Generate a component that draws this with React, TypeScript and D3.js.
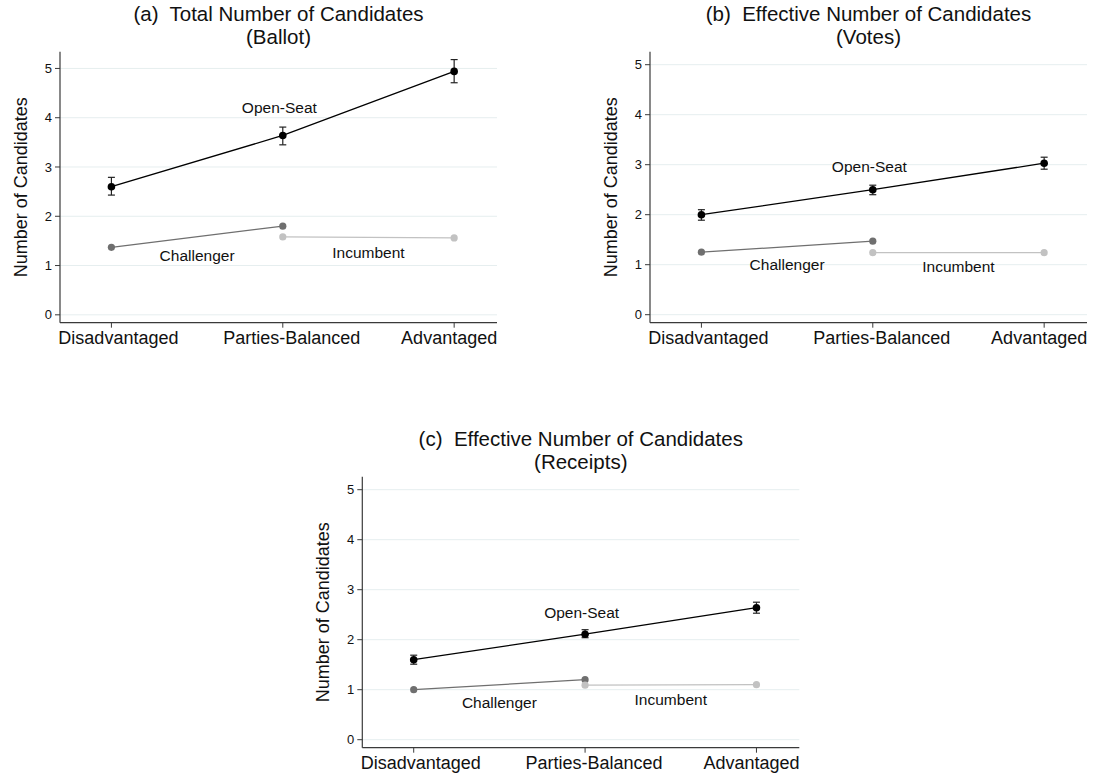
import React from "react";
import * as d3 from "d3";

const categories = ["Disadvantaged", "Parties-Balanced", "Advantaged"];
const yTicks = [0, 1, 2, 3, 4, 5];

const titlesPrefix = ["(a)", "(b)", "(c)"];
const titlesLine1 = [
  "Total Number of Candidates",
  "Effective Number of Candidates",
  "Effective Number of Candidates",
];
const titlesLine2 = ["(Ballot)", "(Votes)", "(Receipts)"];

// Open-seat means and 95% CI
const openSeatA = [2.6, 3.64, 4.94];
const openSeatALo = [2.43, 3.45, 4.71];
const openSeatAHi = [2.79, 3.81, 5.18];
const openSeatB = [2.0, 2.5, 3.03];
const openSeatBLo = [1.89, 2.4, 2.91];
const openSeatBHi = [2.1, 2.59, 3.15];
const openSeatC = [1.6, 2.11, 2.64];
const openSeatCLo = [1.51, 2.04, 2.53];
const openSeatCHi = [1.69, 2.2, 2.75];

// Challenger: Disadvantaged, Parties-Balanced
const challengerA = [1.37, 1.8];
const challengerB = [1.25, 1.47];
const challengerC = [1.0, 1.2];
// Incumbent: Parties-Balanced, Advantaged
const incumbentA = [1.58, 1.56];
const incumbentB = [1.24, 1.24];
const incumbentC = [1.09, 1.1];

// Label anchor values (data coordinates)
const openSeatLabelY = [4.09, 2.85, 2.44];
const challengerLabelY = [1.1, 0.9, 0.64];
const incumbentLabelY = [1.15, 0.85, 0.7];
const yDomains: [number, number][] = [
  [-0.16, 5.34],
  [-0.16, 5.26],
  [-0.16, 5.26],
];

const panels = [
  { left: 60, top: 51.7, open: openSeatA, lo: openSeatALo, hi: openSeatAHi, ch: challengerA, inc: incumbentA },
  { left: 650, top: 51.7, open: openSeatB, lo: openSeatBLo, hi: openSeatBHi, ch: challengerB, inc: incumbentB },
  { left: 362.3, top: 476.7, open: openSeatC, lo: openSeatCLo, hi: openSeatCHi, ch: challengerC, inc: incumbentC },
];

const W = 437;
const H = 271;
const FONT = "'Liberation Sans', Arial, Helvetica, sans-serif";
const GRID = "#e6eeef";
const AXIS = "#3a3a3a";
const CH_COLOR = "#6f6f6f";
const INC_COLOR = "#c2c2c2";
const X_LABEL_SHIFT = [7, 9, -5];

function Panel({ idx }: { idx: number }) {
  const p = panels[idx];
  const x = d3.scaleLinear().domain([-0.3, 2.25]).range([p.left, p.left + W]);
  const y = d3.scaleLinear().domain(yDomains[idx]).range([p.top + H, p.top]);
  const line = d3
    .line<[number, number]>()
    .x((d) => x(d[0]))
    .y((d) => y(d[1]));
  const openPts: [number, number][] = p.open.map((v, i) => [i, v]);
  const chPts: [number, number][] = p.ch.map((v, i) => [i, v]);
  const incPts: [number, number][] = p.inc.map((v, i) => [i + 1, v]);
  const bottom = p.top + H;
  const cx = p.left + W / 2;
  return (
    <g fontFamily={FONT}>
      {/* titles */}
      <text x={cx} y={p.top - 31} textAnchor="middle" fontSize={20.5} fill="#111">
        {titlesPrefix[idx] + "\u00A0 " + titlesLine1[idx]}
      </text>
      <text x={cx} y={p.top - 7.5} textAnchor="middle" fontSize={20.5} fill="#111">
        {titlesLine2[idx]}
      </text>
      {/* grid */}
      {yTicks.map((t) => (
        <line key={"g" + t} x1={p.left} x2={p.left + W} y1={y(t)} y2={y(t)} stroke={GRID} strokeWidth={1} />
      ))}
      {/* y axis */}
      <line x1={p.left} x2={p.left} y1={p.top} y2={bottom} stroke={AXIS} strokeWidth={1.2} />
      {yTicks.map((t) => (
        <g key={"yt" + t}>
          <line x1={p.left - 5} x2={p.left} y1={y(t)} y2={y(t)} stroke={AXIS} strokeWidth={1} />
          <text x={p.left - 8} y={y(t) + 4.6} textAnchor="end" fontSize={13} fill="#111">
            {t}
          </text>
        </g>
      ))}
      <text
        transform={`translate(${p.left - 33.5},${p.top + H / 2}) rotate(-90)`}
        textAnchor="middle"
        fontSize={18}
        fill="#111"
      >
        Number of Candidates
      </text>
      {/* x axis */}
      <line x1={p.left} x2={p.left + W} y1={bottom} y2={bottom} stroke={AXIS} strokeWidth={1.2} />
      {categories.map((c, i) => (
        <g key={"xt" + i}>
          <line x1={x(i)} x2={x(i)} y1={bottom} y2={bottom + 5} stroke={AXIS} strokeWidth={1} />
          <text x={x(i) + X_LABEL_SHIFT[i]} y={bottom + 21} textAnchor="middle" fontSize={18} fill="#111">
            {c}
          </text>
        </g>
      ))}
      {/* lines */}
      <path d={line(chPts) || ""} fill="none" stroke={CH_COLOR} strokeWidth={1.3} />
      <path d={line(incPts) || ""} fill="none" stroke={INC_COLOR} strokeWidth={1.3} />
      <path d={line(openPts) || ""} fill="none" stroke="#000" strokeWidth={1.3} />
      {/* error bars */}
      {p.open.map((_, i) => (
        <g key={"eb" + i} stroke="#222" strokeWidth={1.2}>
          <line x1={x(i)} x2={x(i)} y1={y(p.lo[i])} y2={y(p.hi[i])} />
          <line x1={x(i) - 3.5} x2={x(i) + 3.5} y1={y(p.lo[i])} y2={y(p.lo[i])} />
          <line x1={x(i) - 3.5} x2={x(i) + 3.5} y1={y(p.hi[i])} y2={y(p.hi[i])} />
        </g>
      ))}
      {/* markers */}
      {chPts.map((d, i) => (
        <circle key={"cm" + i} cx={x(d[0])} cy={y(d[1])} r={3.6} fill={CH_COLOR} />
      ))}
      {incPts.map((d, i) => (
        <circle key={"im" + i} cx={x(d[0])} cy={y(d[1])} r={3.6} fill={INC_COLOR} />
      ))}
      {openPts.map((d, i) => (
        <circle key={"om" + i} cx={x(d[0])} cy={y(d[1])} r={3.8} fill="#000" />
      ))}
      {/* series labels */}
      <text x={x(0.98)} y={y(openSeatLabelY[idx])} textAnchor="middle" fontSize={15.5} fill="#111">
        Open-Seat
      </text>
      <text x={x(0.5)} y={y(challengerLabelY[idx])} textAnchor="middle" fontSize={15.5} fill="#111">
        Challenger
      </text>
      <text x={x(1.5)} y={y(incumbentLabelY[idx])} textAnchor="middle" fontSize={15.5} fill="#111">
        Incumbent
      </text>
    </g>
  );
}

export default function App() {
  return (
    <svg
      width={1094}
      height={775}
      viewBox="0 0 1094 775"
      style={{ position: "absolute", left: 0, top: 0, background: "#fff" }}
    >
      <rect x={0} y={0} width={1094} height={775} fill="#fff" />
      {panels.map((_, i) => (
        <Panel key={i} idx={i} />
      ))}
    </svg>
  );
}
